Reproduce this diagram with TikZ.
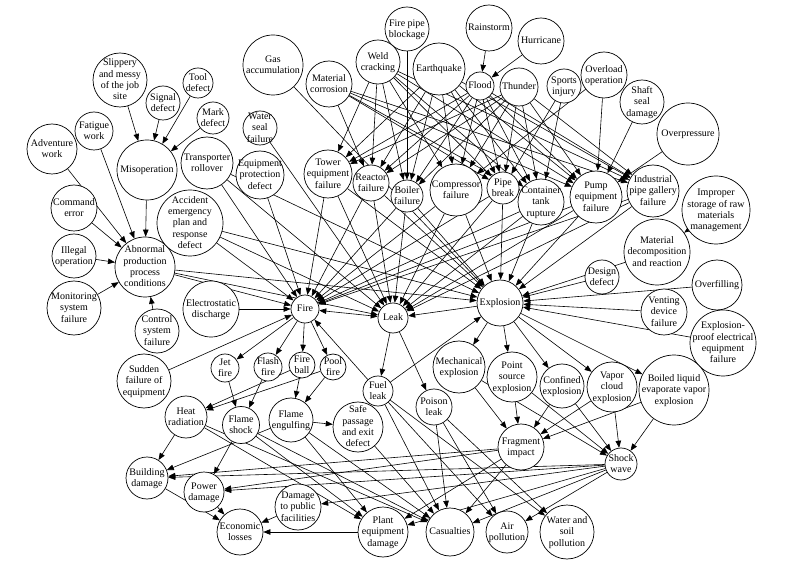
\documentclass[tikz,border=0pt]{standalone}
\usepackage{fontspec}
\setmainfont{Liberation Serif}
\usetikzlibrary{arrows.meta,backgrounds}
\newcommand{\nt}[1]{\smash{\makebox[0pt]{\raisebox{-3pt}{\begin{tabular}{@{}c@{}}#1\end{tabular}}}}}
\renewcommand{\arraystretch}{0.94}
\tikzset{
 bn/.style={circle, draw, fill=white, line width=0.7pt, inner sep=0pt, minimum size=#1},
 ar/.style={-{Triangle[length=7pt,width=5.5pt]}, line width=0.6pt},
 dar/.style={{Triangle[length=7pt,width=5.5pt]}-{Triangle[length=7pt,width=5.5pt]}, line width=0.6pt},
}
\begin{document}
\begin{tikzpicture}[x=1pt,y=-1pt,font=\fontsize{10}{12}\selectfont]
\useasboundingbox (0,0) rectangle (798,561);
% causes, top-left
\node[bn=54pt] (slip) at (120,80) {\nt{Slippery\\and messy\\of the job\\site}};
\node[bn=34pt] (signal) at (163,103) {\nt{Signal\\defect}};
\node[bn=30pt] (tool) at (198,83) {\nt{Tool\\defect}};
\node[bn=32pt] (mark) at (213,118) {\nt{Mark\\defect}};
\node[bn=38pt] (fatigue) at (94,131) {\nt{Fatigue\\work}};
\node[bn=50pt] (advent) at (52,149) {\nt{Adventure\\work}};
\node[bn=60pt] (misop) at (147,170) {\nt{Misoperation}};
\node[bn=52pt] (transp) at (207,163) {\nt{Transporter\\rollover}};
\node[bn=34pt] (wseal) at (260,128) {\nt{Water\\seal\\failure}};
\node[bn=60pt] (gas) at (273,65) {\nt{Gas\\accumulation}};
\node[bn=48pt] (eqprot) at (260,175) {\nt{Equipment\\protection\\defect}};
% top
\node[bn=44pt] (firepipe) at (407,29) {\nt{Fire pipe\\blockage}};
\node[bn=44pt] (weld) at (378,62) {\nt{Weld\\cracking}};
\node[bn=46pt] (matcor) at (329,84) {\nt{Material\\corrosion}};
\node[bn=52pt] (quake) at (439,69) {\nt{Earthquake}};
\node[bn=46pt] (rain) at (489,28) {\nt{Rainstorm}};
\node[bn=28pt] (flood) at (480,86) {\nt{Flood}};
\node[bn=38pt] (thunder) at (519,87) {\nt{Thunder}};
\node[bn=46pt] (hurr) at (541,41) {\nt{Hurricane}};
\node[bn=34pt] (sports) at (564,86) {\nt{Sports\\injury}};
\node[bn=46pt] (overload) at (604,75) {\nt{Overload\\operation}};
\node[bn=44pt] (shaft) at (642,102) {\nt{Shaft\\seal\\damage}};
\node[bn=62pt] (overp) at (688,134) {\nt{Overpressure}};
% equipment failures
\node[bn=48pt] (tower) at (328,174) {\nt{Tower\\equipment\\failure}};
\node[bn=36pt] (reactor) at (371,183) {\nt{Reactor\\failure}};
\node[bn=32pt] (boiler) at (407,196) {\nt{Boiler\\failure}};
\node[bn=52pt] (compr) at (456,190) {\nt{Compressor\\failure}};
\node[bn=32pt] (pipe) at (503,188) {\nt{Pipe\\break}};
\node[bn=46pt] (cont) at (541,202) {\nt{Container\\tank\\rupture}};
\node[bn=52pt] (pump) at (596,197) {\nt{Pump\\equipment\\failure}};
\node[bn=52pt] (indpipe) at (653,191) {\nt{Industrial\\pipe gallery\\failure}};
% right side
\node[bn=68pt] (improper) at (716,210) {\nt{Improper\\storage of raw\\materials\\management}};
\node[bn=66pt] (matdec) at (657,252) {\nt{Material\\decomposition\\and reaction}};
\node[bn=34pt] (design) at (602,277) {\nt{Design\\defect}};
\node[bn=50pt] (overfill) at (717,285) {\nt{Overfilling}};
\node[bn=46pt] (venting) at (664,312) {\nt{Venting\\device\\failure}};
\node[bn=66pt] (exproof) at (723,343) {\nt{Explosion-\\proof electrical\\equipment\\failure}};
% centre
\node[bn=46pt] (explosion) at (500,303) {\nt{Explosion}};
\node[bn=30pt] (leak) at (393,318) {\nt{Leak}};
\node[bn=28pt] (fire) at (305,309) {\nt{Fire}};
\node[bn=56pt] (electro) at (211,309) {\nt{Electrostatic\\discharge}};
\node[bn=60pt] (abnormal) at (145,267) {\nt{Abnormal\\production\\process\\conditions}};
\node[bn=66pt] (accident) at (190,223) {\nt{Accident\\emergency\\plan and\\response\\defect}};
\node[bn=46pt] (command) at (74,208) {\nt{Command\\error}};
\node[bn=44pt] (illegal) at (74,256) {\nt{Illegal\\operation}};
\node[bn=54pt] (monitor) at (74,308) {\nt{Monitoring\\system\\failure}};
\node[bn=44pt] (control) at (157,331) {\nt{Control\\system\\failure}};
\node[bn=54pt] (sudden) at (144,381) {\nt{Sudden\\failure of\\equipment}};
% fire types
\node[bn=28pt] (jet) at (225,368) {\nt{Jet\\fire}};
\node[bn=28pt] (flash) at (268,367) {\nt{Flash\\fire}};
\node[bn=26pt] (ball) at (302,365) {\nt{Fire\\ball}};
\node[bn=26pt] (pool) at (333,367) {\nt{Pool\\fire}};
\node[bn=42pt] (heat) at (186,417) {\nt{Heat\\radiation}};
\node[bn=37pt] (shockf) at (241,425) {\nt{Flame\\shock}};
\node[bn=44pt] (engulf) at (291,420) {\nt{Flame\\engulfing}};
\node[bn=50pt] (safe) at (358,427) {\nt{Safe\\passage\\and exit\\defect}};
\node[bn=30pt] (fuel) at (378,391) {\nt{Fuel\\leak}};
\node[bn=36pt] (poison) at (434,407) {\nt{Poison\\leak}};
% explosion types
\node[bn=52pt] (mech) at (459,367) {\nt{Mechanical\\explosion}};
\node[bn=50pt] (point) at (512,377) {\nt{Point\\source\\explosion}};
\node[bn=44pt] (confined) at (562,386) {\nt{Confined\\explosion}};
\node[bn=50pt] (vapor) at (612,387) {\nt{Vapor\\cloud\\explosion}};
\node[bn=70pt] (bleve) at (674,390) {\nt{Boiled liquid\\evaporate vapor\\explosion}};
\node[bn=46pt] (frag) at (521,447) {\nt{Fragment\\impact}};
\node[bn=32pt] (shock) at (621,464) {\nt{Shock\\wave}};
% consequences
\node[bn=42pt] (building) at (147,478) {\nt{Building\\damage}};
\node[bn=40pt] (power) at (204,492) {\nt{Power\\damage}};
\node[bn=46pt] (econ) at (240,532) {\nt{Economic\\losses}};
\node[bn=46pt] (public) at (298,507) {\nt{Damage\\to public\\facilities}};
\node[bn=50pt] (plant) at (383,532) {\nt{Plant\\equipment\\damage}};
\node[bn=48pt] (casual) at (450,532) {\nt{Casualties}};
\node[bn=42pt] (air) at (507,532) {\nt{Air\\pollution}};
\node[bn=54pt] (water) at (567,532) {\nt{Water and\\soil\\pollution}};

\begin{pgfonlayer}{background}
\fill[white] (0,0) rectangle (798,561);
\foreach \s in {slip,signal,tool,mark} \draw[ar] (\s) -- (misop);
\foreach \s in {misop,advent,fatigue,command,illegal,monitor,control} \draw[ar] (\s) -- (abnormal);
\foreach \s in {rain,hurr} \draw[ar] (\s) -- (flood);
\foreach \s in {weld,quake,flood,thunder}
  \foreach \t in {tower,reactor,boiler,compr,pipe,cont,pump,indpipe} \draw[ar] (\s) -- (\t);
\foreach \t in {reactor,pipe,cont,pump,indpipe} \draw[ar] (matcor) -- (\t);
\draw[ar] (firepipe) -- (boiler);
\foreach \t in {pipe,cont} \draw[ar] (sports) -- (\t);
\foreach \t in {compr,pump} \draw[ar] (overload) -- (\t);
\draw[ar] (shaft) -- (pump);
\draw[ar] (overp) -- (pump);
\foreach \s in {tower,reactor,boiler,compr,pipe,cont,pump,indpipe,abnormal,transp,accident}
  \foreach \t in {fire,leak,explosion} \draw[ar] (\s) -- (\t);
\draw[ar] (electro) -- (fire);
\draw[ar] (sudden) -- (fire);
\draw[ar] (eqprot) -- (fire);
\draw[ar] (wseal) -- (leak);
\draw[ar] (gas) -- (explosion);
\draw[ar] (improper) -- (matdec);
\foreach \s in {matdec,design,overfill,venting,exproof} \draw[ar] (\s) -- (explosion);
\draw[dar] (fire) -- (leak);
\draw[ar] (explosion) -- (leak);
\draw[ar] (leak) -- (fuel);
\draw[ar] (leak) -- (poison);
\draw[ar] (fuel) -- (fire);
\draw[ar] (fuel) -- (explosion);
\foreach \t in {jet,flash,ball,pool} \draw[ar] (fire) -- (\t);
\draw[ar] (jet) -- (shockf);
\draw[ar] (flash) -- (shockf);
\draw[ar] (ball) -- (heat);
\draw[ar] (pool) -- (heat);
\draw[ar] (ball) -- (engulf);
\draw[ar] (pool) -- (engulf);
\draw[ar] (engulf) -- (safe);
\foreach \t in {mech,point,confined,vapor,bleve} \draw[ar] (explosion) -- (\t);
\foreach \s in {mech,point,confined,vapor,bleve}
  \foreach \t in {frag,shock} \draw[ar] (\s) -- (\t);
\foreach \t in {building,plant,casual} \draw[ar] (heat) -- (\t);
\foreach \t in {power,plant,casual} \draw[ar] (shockf) -- (\t);
\foreach \t in {building,plant,casual} \draw[ar] (engulf) -- (\t);
\draw[ar] (safe) -- (casual);
\foreach \t in {casual,air,water} \draw[ar] (poison) -- (\t);
\foreach \t in {casual,air,water} \draw[ar] (fuel) -- (\t);
\foreach \t in {building,power,plant,casual} \draw[ar] (frag) -- (\t);
\foreach \t in {building,power,public,plant,casual,air} \draw[ar] (shock) -- (\t);
\foreach \s in {building,power,public,plant} \draw[ar] (\s) -- (econ);
\end{pgfonlayer}
\end{tikzpicture}
\end{document}
